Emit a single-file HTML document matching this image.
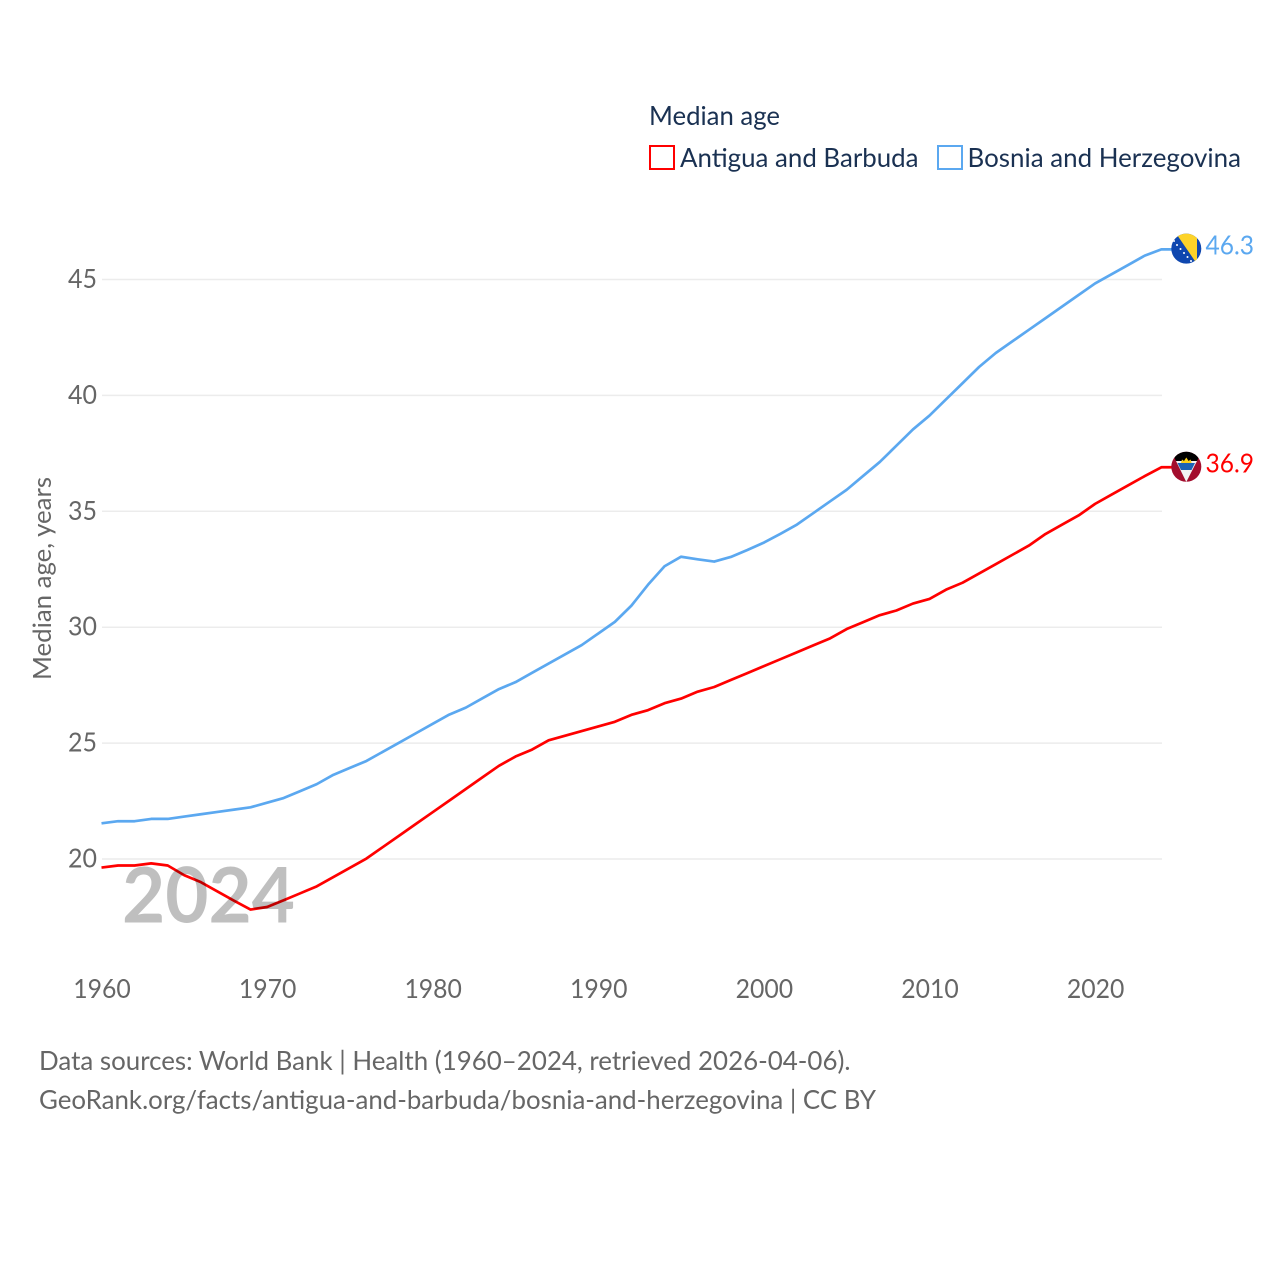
<!DOCTYPE html>
<html lang="en">
<head>
<meta charset="utf-8">
<title>Median age</title>
<style>
html,body{margin:0;padding:0;background:#fff;}
svg{display:block;font-family:"Lato","Carlito","Liberation Sans",sans-serif;}
</style>
</head>
<body>
<svg id="chart" xmlns="http://www.w3.org/2000/svg" width="1280" height="1280" viewBox="0 0 1280 1280">
  <defs>
    <clipPath id="clip-ba"><circle id="clip-ba-c" cx="1186.3" cy="248.7" r="15"/></clipPath>
    <clipPath id="clip-ag"><circle id="clip-ag-c" cx="1186.3" cy="466.8" r="15"/></clipPath>
  </defs>
  <g id="grid"></g>
  <g id="yticks"></g>
  <g id="xticks"></g>
  <text transform="translate(51,680) rotate(-90)" font-size="25" fill="#666" textLength="203" lengthAdjust="spacingAndGlyphs">Median age, years</text>

  <g>
    <text x="649" y="125" font-size="26" fill="#1a3152" textLength="131" lengthAdjust="spacingAndGlyphs">Median age</text>
    <rect x="650" y="146" width="24" height="23" fill="#fff" stroke="#ff0000" stroke-width="2"/>
    <text x="680" y="167" font-size="26" fill="#1a3152" textLength="238.5" lengthAdjust="spacingAndGlyphs">Antigua and Barbuda</text>
    <rect x="938" y="146" width="24" height="23" fill="#fff" stroke="#5ba8f0" stroke-width="2"/>
    <text x="967.5" y="167" font-size="26" fill="#1a3152" textLength="273.5" lengthAdjust="spacingAndGlyphs">Bosnia and Herzegovina</text>
  </g>

  <g id="series"></g>

  <g id="flag-ba" clip-path="url(#clip-ba)">
    <rect x="1170" y="232" width="33" height="33" fill="#0f47af"/>
    <polygon points="1175,232 1197,232 1197,264" fill="#fdd329"/>
    <g fill="#fff">
      <circle cx="1174" cy="241" r="1"/><circle cx="1177" cy="245" r="1"/><circle cx="1180.5" cy="249" r="1"/>
      <circle cx="1184" cy="253" r="1"/><circle cx="1187.5" cy="257" r="1"/><circle cx="1191" cy="261" r="1"/>
    </g>
  </g>
  <g id="flag-ag" clip-path="url(#clip-ag)">
    <rect x="1170" y="451" width="33" height="33" fill="#a30d2d"/>
    <polygon points="1171,451 1202,451 1197,461 1176,461 " fill="#000"/>
    <polygon points="1176,461 1197,461 1186.3,482" fill="#f2f2f2"/>
    <polygon points="1177.5,463 1195,463 1191.5,470 1181,470" fill="#1b63b5"/>
    <polygon points="1181,463 1182,459.5 1184,461 1186.3,457.5 1188.6,461 1190.6,459.5 1191.6,463" fill="#fcd116"/>
  </g>

  <text id="label-ba" x="1205.5" y="255" font-size="26" fill="#5ba8f0" textLength="48.5" lengthAdjust="spacingAndGlyphs">46.3</text>
  <text id="label-ag" x="1205.5" y="473" font-size="26" fill="#ff0000" textLength="48.5" lengthAdjust="spacingAndGlyphs">36.9</text>

  <text x="122" y="922.5" font-size="77" font-weight="bold" fill="#000" fill-opacity="0.25" textLength="173" lengthAdjust="spacingAndGlyphs">2024</text>

  <text x="39" y="1070" font-size="26" fill="#666" textLength="811.5" lengthAdjust="spacingAndGlyphs">Data sources: World Bank | Health (1960–2024, retrieved 2026-04-06).</text>
  <text x="39" y="1109" font-size="26" fill="#666" textLength="837" lengthAdjust="spacingAndGlyphs">GeoRank.org/facts/antigua-and-barbuda/bosnia-and-herzegovina | CC BY</text>
</svg>
<script>
var startYear = 1960;
var xTickLabels = [1960, 1970, 1980, 1990, 2000, 2010, 2020];
var yTickLabels = [20, 25, 30, 35, 40, 45];
var antiguaValues = [19.63,19.72,19.72,19.81,19.72,19.3,19.0,18.6,18.2,17.82,17.93,18.22,18.52,18.82,19.22,19.62,20.02,20.52,21.02,21.52,22.02,22.52,23.02,23.52,24.02,24.42,24.72,25.12,25.32,25.52,25.72,25.92,26.22,26.42,26.72,26.92,27.22,27.42,27.72,28.02,28.32,28.62,28.92,29.22,29.52,29.92,30.22,30.52,30.72,31.02,31.22,31.62,31.92,32.32,32.72,33.12,33.52,34.02,34.42,34.82,35.32,35.72,36.12,36.52,36.9];
var bosniaValues = [21.54,21.63,21.63,21.73,21.73,21.83,21.93,22.03,22.13,22.23,22.43,22.63,22.93,23.23,23.63,23.93,24.23,24.63,25.03,25.43,25.83,26.23,26.53,26.93,27.33,27.63,28.03,28.43,28.83,29.23,29.73,30.23,30.93,31.83,32.63,33.04,32.93,32.83,33.03,33.33,33.65,34.03,34.43,34.93,35.43,35.93,36.53,37.13,37.83,38.53,39.13,39.83,40.53,41.23,41.83,42.33,42.83,43.33,43.83,44.33,44.83,45.23,45.63,46.03,46.3];

var NS = 'http://www.w3.org/2000/svg';
function xScale(year) { return 101.5 + (year - 1960) * 16.56; }
function yScale(v) { return 859 - (v - 20) * 23.18; }

var grid = document.getElementById('grid');
var yticks = document.getElementById('yticks');
var xticks = document.getElementById('xticks');
var series = document.getElementById('series');

yTickLabels.forEach(function (v) {
  var line = document.createElementNS(NS, 'line');
  
  
  line.setAttribute('x1', 102);
  line.setAttribute('x2', 1162);
  line.setAttribute('y1', yScale(v));
  line.setAttribute('y2', yScale(v));
  line.setAttribute('stroke', '#ececec');
  line.setAttribute('stroke-width', '1.5');
  grid.appendChild(line);

  var t = document.createElementNS(NS, 'text');
  
  
  t.setAttribute('x', 97);
  t.setAttribute('y', yScale(v) + 8.5);
  t.setAttribute('text-anchor', 'end');
  t.setAttribute('font-size', '26');
  t.setAttribute('fill', '#666');
  t.setAttribute('textLength', '29');
  t.setAttribute('lengthAdjust', 'spacingAndGlyphs');
  t.textContent = v;
  yticks.appendChild(t);
});

xTickLabels.forEach(function (y) {
  var t = document.createElementNS(NS, 'text');
  
  
  t.setAttribute('x', 102 + (y - 1960) * 16.56);
  t.setAttribute('y', 998);
  t.setAttribute('text-anchor', 'middle');
  t.setAttribute('font-size', '26');
  t.setAttribute('fill', '#666');
  t.setAttribute('textLength', '57.5');
  t.setAttribute('lengthAdjust', 'spacingAndGlyphs');
  t.textContent = y;
  xticks.appendChild(t);
});

function addLine(values, color, name) {
  var pts = values.map(function (v, i) {
    return xScale(startYear + i).toFixed(2) + ',' + yScale(v).toFixed(2);
  });
  var lastY = yScale(values[values.length - 1]).toFixed(2);
  pts.push('1172,' + lastY);
  var p = document.createElementNS(NS, 'polyline');
  
  
  p.setAttribute('points', pts.join(' '));
  p.setAttribute('fill', 'none');
  p.setAttribute('stroke', color);
  p.setAttribute('stroke-width', '2.7');
  p.setAttribute('stroke-linejoin', 'round');
  series.appendChild(p);
}
addLine(antiguaValues, '#ff0000', 'line-antigua-and-barbuda');
addLine(bosniaValues, '#5ba8f0', 'line-bosnia-and-herzegovina');

function placeEnd(values, refY, flagId, clipId, labelId, labelOffset) {
  var last = values[values.length - 1];
  var y = yScale(last);
  document.getElementById(flagId).setAttribute('transform', 'translate(0,' + (y - refY) + ')');
  var lab = document.getElementById(labelId);
  lab.setAttribute('y', y + labelOffset);
  lab.textContent = last.toFixed(1);
}
placeEnd(bosniaValues, 249.4, 'flag-ba', 'clip-ba-c', 'label-ba', 5.2);
placeEnd(antiguaValues, 467.3, 'flag-ag', 'clip-ag-c', 'label-ag', 5.2);
</script>
</body>
</html>
